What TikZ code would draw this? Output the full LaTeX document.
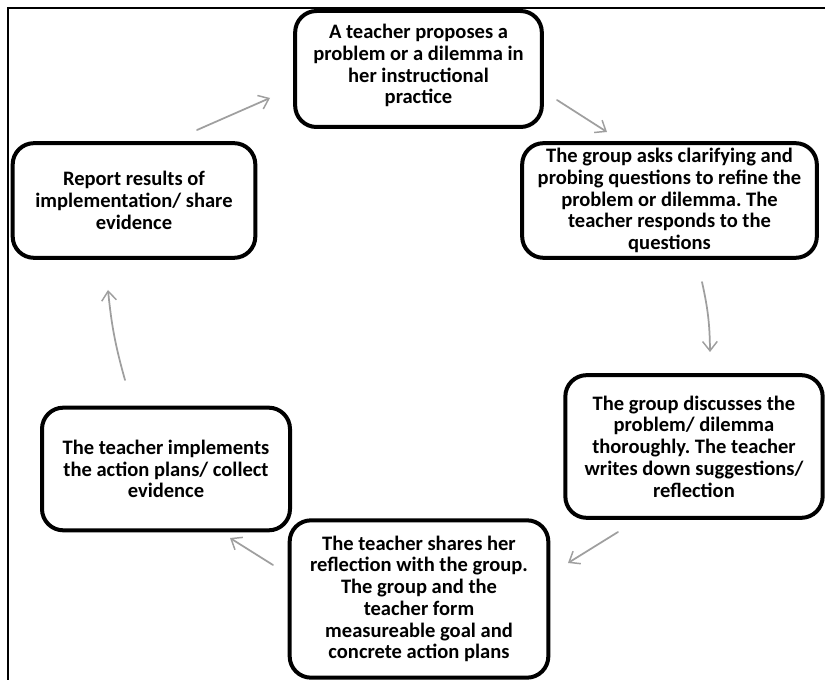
\documentclass[tikz,border=0pt]{standalone}
\usepackage{fontspec}
\setmainfont{Carlito}
\usetikzlibrary{arrows.meta}
\frenchspacing
\tikzset{
  stepbox/.style={draw=black, line width=3pt, rounded corners=16pt, align=center,
    font=\bfseries\fontsize{15.4}{16.3}\selectfont, inner sep=2pt},
  flowarrow/.style={draw=gray!75, line width=1.3pt, line cap=round,
    -{Straight Barb[length=7pt,width=11pt,line width=1.1pt]}}
}
\begin{document}
\begin{tikzpicture}[x=0.75pt,y=-0.75pt]
\useasboundingbox (0,0) rectangle (825,680);
\fill[white] (0,0) rectangle (825,680);
% frame
\draw[line width=2.2pt] (8,682) -- (8,8) -- (827,8);
% boxes
\node[stepbox, minimum width=185pt, minimum height=87pt] (b1) at (418.5,69)
  {A teacher proposes a\\problem or a dilemma in\\her instructional\\practice\\[-9pt]\mbox{}};
\node[stepbox, minimum width=221pt, minimum height=86pt] (b2) at (669.5,200.5)
  {The group asks clarifying and\\probing questions to refine the\\problem or dilemma. The\\teacher responds to the\\questions};
\node[stepbox, minimum width=193pt, minimum height=107pt] (b3) at (694,446.5)
  {The group discusses the\\problem/ dilemma\\thoroughly. The teacher\\writes down suggestions/\\reflection};
\node[stepbox, minimum width=194pt, minimum height=118pt] (b4) at (419,599)
  {The teacher shares her\\reflection with the group.\\The group and the\\teacher form\\measureable goal and\\concrete action plans};
\node[stepbox, minimum width=186pt, minimum height=92pt] (b5) at (166,469)
  {The teacher implements\\the action plans/ collect\\evidence};
\node[stepbox, minimum width=182pt, minimum height=86pt] (b6) at (134,200.5)
  {Report results of\\implementation/ share\\evidence};
% arrow end points
\coordinate (a1s) at (197,130); \coordinate (a1e) at (270,98);
\coordinate (a2s) at (557,100); \coordinate (a2e) at (607,132);
\coordinate (a3s) at (702,282); \coordinate (a3e) at (710,352);
\coordinate (a4s) at (618,532); \coordinate (a4e) at (568,563);
\coordinate (a5s) at (273,565); \coordinate (a5e) at (230,538);
\coordinate (a6s) at (125,380); \coordinate (a6e) at (108,290);
% arrows
\draw[flowarrow] (a1s) -- (a1e);
\draw[flowarrow] (a2s) -- (a2e);
\draw[flowarrow] (a3s) to[bend left=6] (a3e);
\draw[flowarrow] (a4s) -- (a4e);
\draw[flowarrow] (a5s) -- (a5e);
\draw[flowarrow] (a6s) to[bend left=5] (a6e);
\end{tikzpicture}
\end{document}
